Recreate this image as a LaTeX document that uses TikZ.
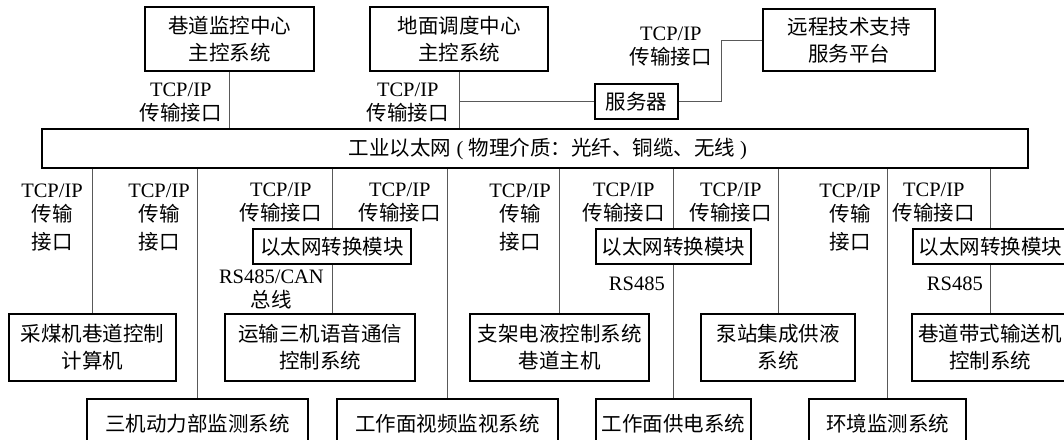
\documentclass[tikz,border=0pt]{standalone}
\usepackage{fontspec}
\setmainfont{Noto Sans CJK SC}
\newfontfamily\lat{Liberation Serif}
\newcommand\labfont{\fontsize{20.5}{24}\selectfont}
\newcommand\boxfont{\fontsize{20.5}{27}\selectfont}
\tikzset{
  box/.style={draw, line width=1.3pt, inner sep=0pt, align=center, font=\boxfont},
  conn/.style={line width=0.9pt, draw=black!65},
  lab/.style={inner sep=0pt, align=center, font=\labfont},
}
\begin{document}
\begin{tikzpicture}[x=1pt,y=-1pt]
\useasboundingbox (0,0) rectangle (1064,439);
\clip (0,0) rectangle (1064,439);
% top boxes
\node[box, minimum width=169pt, minimum height=64pt] (A) at (229.5,39) {巷道监控中心\\主控系统};
\node[box, minimum width=178pt, minimum height=64pt] (B) at (459,39) {地面调度中心\\主控系统};
\node[box, minimum width=172pt, minimum height=62pt] (R) at (849,40) {远程技术支持\\服务平台};
\node[box, minimum width=83pt, minimum height=35pt] (S) at (636.5,101.5) {服务器};
% ethernet bar
\node[box, minimum width=986pt, minimum height=39pt] (bar) at (535,148.5) {\hspace*{26pt}工业以太网{\lat\ (\ }物理介质：光纤、铜缆、无线{\lat\ )}};
% middle boxes
\node[box, minimum width=167pt, minimum height=67pt] (C1) at (92.5,347.5) {采煤机巷道控制\\计算机};
\node[box, minimum width=190pt, minimum height=67pt] (C3) at (320,347.5) {运输三机语音通信\\控制系统};
\node[box, minimum width=179pt, minimum height=67pt] (C5) at (559.5,347.5) {支架电液控制系统\\巷道主机};
\node[box, minimum width=154pt, minimum height=67pt] (C7) at (778,347.5) {泵站集成供液\\系统};
\node[box, minimum width=156pt, minimum height=67pt] (C9) at (990,347.5) {巷道带式输送机\\控制系统};
% modules
\node[box, minimum width=158pt, minimum height=35pt] (M3) at (332,246.5) {以太网转换模块};
\node[box, minimum width=155pt, minimum height=35pt] (M6) at (673.5,246.5) {以太网转换模块};
\node[box, minimum width=155pt, minimum height=35pt] (M9) at (990.5,246.5) {以太网转换模块};
% bottom boxes
\node[box, minimum width=221pt, minimum height=50pt] (D2) at (197.5,424) {三机动力部监测系统};
\node[box, minimum width=221pt, minimum height=50pt] (D4) at (447.5,424) {工作面视频监视系统};
\node[box, minimum width=155pt, minimum height=50pt] (D6) at (673.5,424) {工作面供电系统};
\node[box, minimum width=157pt, minimum height=50pt] (D8) at (887.5,424) {环境监测系统};
% top connectors
\draw[conn] (A.south) -- (A.south |- bar.north);
\draw[conn] (B.south) -- (B.south |- bar.north);
\draw[conn] (B.south |- S.west) -- (S.west);
\draw[conn] (S.east) -- ++(43,0) |- (R.west);
% lower connectors
\draw[conn] (bar.south -| C1.north) -- (C1.north);
\draw[conn] (bar.south -| D2.north) -- (D2.north);
\draw[conn] (bar.south -| M3.north) -- (M3.north);
\draw[conn] (M3.south) -- (M3.south |- C3.north);
\draw[conn] (bar.south -| D4.north) -- (D4.north);
\draw[conn] (bar.south -| C5.north) -- (C5.north);
\draw[conn] (bar.south -| M6.north) -- (M6.north);
\draw[conn] (M6.south) -- (M6.south |- D6.north);
\draw[conn] (bar.south -| C7.north) -- (C7.north);
\draw[conn] (bar.south -| D8.north) -- (D8.north);
\draw[conn] (bar.south -| M9.north) -- (M9.north);
\draw[conn] (M9.south) -- (M9.south |- C9.north);
% labels top
\node[lab, anchor=north east] (tA) at (222,83) {{\lat TCP/IP}\\传输接口};
\node[lab, anchor=north east] (tB) at (449,83) {{\lat TCP/IP}\\传输接口};
\node[lab, anchor=north east] (tR) at (712,27) {{\lat TCP/IP}\\传输接口};
% labels middle
\node[lab, anchor=north east] (t1) at (83,184) {{\lat TCP/IP}\\传输\\[4pt]接口};
\node[lab, anchor=north east] (t2) at (190,184) {{\lat TCP/IP}\\传输\\[4pt]接口};
\node[lab, anchor=north east] (t3) at (322,183) {{\lat TCP/IP}\\传输接口};
\node[lab, anchor=north east] (t4) at (441,183) {{\lat TCP/IP}\\传输接口};
\node[lab, anchor=north east] (t5) at (551,184) {{\lat TCP/IP}\\传输\\[4pt]接口};
\node[lab, anchor=north east] (t6) at (665,183) {{\lat TCP/IP}\\传输接口};
\node[lab, anchor=north east] (t7) at (772,183) {{\lat TCP/IP}\\传输接口};
\node[lab, anchor=north east] (t8) at (881,184) {{\lat TCP/IP}\\传输\\[4pt]接口};
\node[lab, anchor=north east] (t9) at (975,183) {{\lat TCP/IP}\\传输接口};
\node[lab, anchor=north east] (r3) at (324,270) {{\lat RS485/CAN}\\总线};
\node[lab, anchor=north east] (r6) at (665,277) {\lat RS485};
\node[lab, anchor=north east] (r9) at (983,277) {\lat RS485};
\end{tikzpicture}
\end{document}
